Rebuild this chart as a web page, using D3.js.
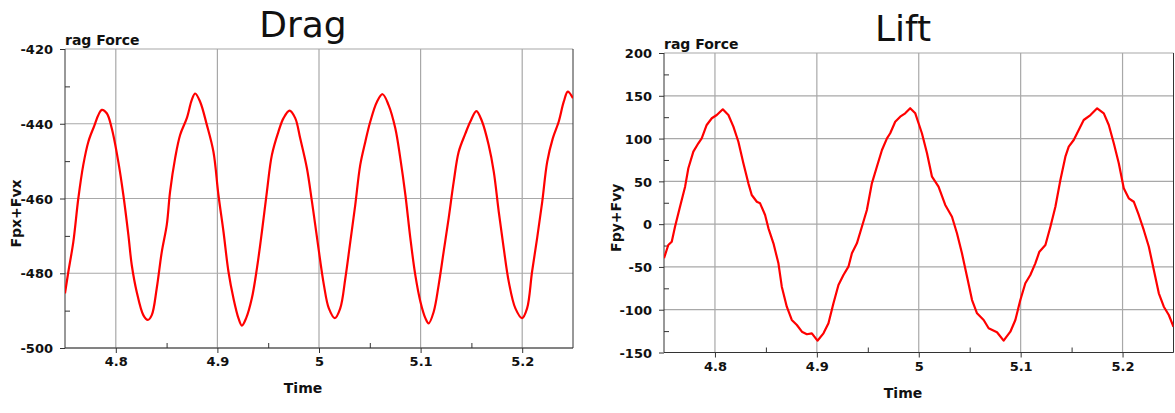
<!DOCTYPE html>
<html>
<head>
<meta charset="utf-8">
<script src="https://cdn.jsdelivr.net/npm/d3@7"></script>
<style>
  body { margin: 0; background: #fff; }
  svg text { font-family: "DejaVu Sans", sans-serif; fill: #111; }
</style>
</head>
<body>
<svg width="1175" height="413"></svg>
<script>
// values
const timeTicks = [4.8, 4.9, 5, 5.1, 5.2];
const timeMinor = [4.85, 4.95, 5.05, 5.15];

const dragTicks = [-500, -480, -460, -440, -420];
const dragMinor = [-490, -470, -450, -430];
const liftTicks = [-150, -100, -50, 0, 50, 100, 150, 200];
const liftMinor = [-125, -75, -25, 25, 75, 125, 175];

const dragTime = [4.750, 4.7533, 4.7582, 4.7631, 4.7680, 4.7730, 4.7779, 4.7862, 4.7911, 4.7960,
  4.8025, 4.8074, 4.8124, 4.8157, 4.8206, 4.8271, 4.8315, 4.8354, 4.8403, 4.8453,
  4.8502, 4.8534, 4.8584, 4.8633, 4.8699, 4.8748, 4.8781, 4.8830, 4.8896, 4.8961,
  4.9010, 4.9060, 4.9109, 4.9158, 4.9207, 4.9241, 4.9283, 4.9339, 4.9389, 4.9438,
  4.9487, 4.9536, 4.9601, 4.9651, 4.9710, 4.9766, 4.9815, 4.9881, 4.9931, 4.9980,
  5.0048, 5.0097, 5.0156, 5.0209, 5.0259, 5.0308, 5.0357, 5.0406, 5.0456, 5.0505,
  5.0571, 5.0626, 5.0685, 5.0751, 5.0800, 5.0850, 5.0899, 5.0948, 5.0998, 5.1047,
  5.1079, 5.1129, 5.1178, 5.1227, 5.1276, 5.1326, 5.1375, 5.1441, 5.1490, 5.1549,
  5.1605, 5.1670, 5.1720, 5.1769, 5.1818, 5.1868, 5.1933, 5.1999, 5.2048, 5.2097,
  5.2147, 5.2197, 5.2246, 5.2301, 5.2360, 5.2409, 5.2449, 5.2500];
const dragForce = [-485.4, -479.6, -471.6, -460.0, -451.0, -444.8, -441.2, -436.3, -437.2, -441.2,
  -450.2, -459.0, -469.8, -477.8, -485.0, -491.2, -492.5, -491.2, -484.0, -474.2,
  -467.0, -458.2, -449.2, -443.0, -438.5, -433.6, -431.9, -434.1, -440.3, -447.5,
  -459.0, -468.9, -479.6, -486.7, -492.0, -494.0, -492.0, -486.7, -478.7, -468.9,
  -458.2, -448.4, -442.1, -438.5, -436.5, -438.5, -443.9, -451.9, -460.9, -470.4,
  -483.1, -489.4, -492.0, -489.4, -481.4, -471.6, -461.7, -451.0, -444.8, -439.4,
  -434.1, -432.1, -435.0, -441.2, -449.2, -459.0, -470.6, -480.5, -487.6, -492.0,
  -493.4, -490.3, -483.1, -474.2, -465.3, -455.5, -447.5, -442.6, -439.4, -436.6,
  -439.4, -445.7, -452.8, -463.5, -473.3, -482.3, -489.4, -492.0, -489.4, -479.6,
  -470.6, -460.9, -450.2, -443.9, -439.4, -434.1, -431.4, -433.2];

const liftTime = [4.750, 4.7542, 4.7576, 4.7608, 4.7657, 4.7707, 4.7739, 4.7788, 4.7837, 4.7870,
  4.7919, 4.7969, 4.8018, 4.8077, 4.8132, 4.8181, 4.8230, 4.8279, 4.8328, 4.8361,
  4.8411, 4.8443, 4.8492, 4.8525, 4.8574, 4.8623, 4.8656, 4.8705, 4.8754, 4.8804,
  4.8853, 4.8902, 4.8951, 4.9006, 4.9065, 4.9114, 4.9163, 4.9212, 4.9261, 4.9310,
  4.9344, 4.9393, 4.9442, 4.9491, 4.9540, 4.9589, 4.9639, 4.9688, 4.9720, 4.9769,
  4.9818, 4.9867, 4.9916, 4.9966, 5.0031, 5.0081, 5.0130, 5.0194, 5.0260, 5.0326,
  5.0375, 5.0424, 5.0474, 5.0523, 5.0572, 5.0637, 5.0686, 5.0768, 5.0833, 5.0899,
  5.0948, 5.0997, 5.1046, 5.1095, 5.1144, 5.1184, 5.1243, 5.1292, 5.1341, 5.1390,
  5.1439, 5.1472, 5.1521, 5.1570, 5.1619, 5.1685, 5.1751, 5.1816, 5.1865, 5.1914,
  5.1963, 5.2012, 5.2061, 5.2110, 5.2159, 5.2208, 5.2258, 5.2307, 5.2356, 5.2405,
  5.2454, 5.2500];
const liftForce = [-39.9, -24.4, -20.5, -3.0, 20.4, 43.8, 65.3, 84.7, 94.5, 100.3,
  115.9, 123.7, 127.5, 134.2, 127.5, 113.9, 96.3, 71.1, 47.7, 34.1,
  26.2, 24.3, 10.7, -4.9, -22.4, -45.8, -73.1, -96.5, -112.0, -117.9,
  -125.7, -128.7, -127.6, -136.2, -127.6, -115.9, -92.5, -71.1, -59.4, -49.7,
  -34.1, -22.4, -3.0, 16.5, 47.7, 67.1, 86.6, 100.3, 106.2, 119.7,
  125.6, 129.5, 135.4, 129.5, 106.2, 82.8, 55.5, 43.8, 22.4, 8.7,
  -10.7, -34.1, -61.4, -88.7, -104.2, -112.0, -121.7, -126.4, -136.2, -125.7,
  -112.0, -88.7, -69.1, -59.4, -45.8, -32.2, -24.4, -3.0, 20.4, 51.6,
  78.8, 90.5, 98.3, 110.0, 121.7, 127.5, 135.4, 129.5, 115.9, 94.5,
  71.1, 41.9, 30.2, 26.2, 10.7, -6.8, -26.4, -53.6, -80.8, -96.5,
  -106.2, -119.9];

const svg = d3.select("svg");
const plain = d => String(d);   // keep ascii hyphen for negatives

function panel(p) {
    const x = d3.scaleLinear().domain([4.75, 5.25]).range([p.left, p.right]);
    const y = d3.scaleLinear().domain(p.yDomain).range([p.bottom, p.top]);
    const g = svg.append("g");

    // grid
    g.append("g").selectAll("line").data(timeTicks).join("line")
        .attr("x1", d => x(d)).attr("x2", d => x(d))
        .attr("y1", p.top).attr("y2", p.bottom)
        .attr("stroke", "#a8a8a8").attr("stroke-width", 1.2);
    g.append("g").selectAll("line").data(p.ticks).join("line")
        .attr("x1", p.left).attr("x2", p.right)
        .attr("y1", d => y(d)).attr("y2", d => y(d))
        .attr("stroke", "#a8a8a8").attr("stroke-width", 1.2);

    // axes
    g.append("g").attr("transform", `translate(0,${p.bottom})`)
        .call(d3.axisBottom(x).tickValues(timeTicks).tickFormat(plain).tickSize(5).tickPadding(4));
    g.append("g").attr("transform", `translate(0,${p.bottom})`)
        .call(d3.axisBottom(x).tickValues(timeMinor).tickFormat("").tickSize(-5));
    const yAxis = g.append("g").attr("transform", `translate(${p.left},0)`)
        .call(d3.axisLeft(y).tickValues(p.ticks).tickFormat(plain).tickSize(5).tickPadding(7));
    g.append("g").attr("transform", `translate(${p.left},0)`)
        .call(d3.axisLeft(y).tickValues(p.minor).tickFormat("").tickSize(-5));
    g.selectAll(".domain").remove();
    g.selectAll(".tick line").attr("stroke", "#333");
    g.selectAll(".tick text").style("font-size", "13px").style("font-weight", "bold")
        .style("font-family", "'DejaVu Sans', sans-serif").attr("fill", "#111");
    yAxis.selectAll(".tick text").attr("dy", "0.36em");

    // frame: left, bottom, right
    g.append("path")
        .attr("d", `M${p.left},${p.top}V${p.bottom}H${p.right}V${p.top}`)
        .attr("fill", "none").attr("stroke", "#333").attr("stroke-width", 1);

    // clipped series
    const clipId = "clip-" + p.name;
    svg.append("clipPath").attr("id", clipId).append("rect")
        .attr("x", p.left).attr("y", p.top)
        .attr("width", p.right - p.left).attr("height", p.bottom - p.top);
    const pts = p.t.map((t, i) => [t, p.v[i]]);
    g.append("path").datum(pts)
        .attr("clip-path", `url(#${clipId})`)
        .attr("fill", "none").attr("stroke", "#ff0000").attr("stroke-width", 2.2)
        .attr("stroke-linejoin", "round")
        .attr("d", d3.line().curve(p.curve).x(d => x(d[0])).y(d => y(d[1])));

    // texts, centred on the whole panel rather than the plot box
    g.append("text").attr("x", p.cx).attr("y", p.titleY)
        .attr("text-anchor", "middle").style("font-size", "36px").text(p.title);
    g.append("text").attr("x", p.left).attr("y", p.top - 4)
        .style("font-size", "14px").style("font-weight", "bold").text("rag Force");
    g.append("text").attr("x", p.cx).attr("y", p.bottom + 45)
        .attr("text-anchor", "middle").style("font-size", "14px").style("font-weight", "bold").text("Time");
    g.append("text")
        .attr("transform", `translate(${p.ylabX},${(p.top + p.bottom) / 2 + 15}) rotate(-90)`)
        .attr("text-anchor", "middle").style("font-size", "14px").style("font-weight", "bold")
        .text(p.ylabel);
}

panel({
    name: "drag", left: 65, right: 573, top: 49, bottom: 348, cx: 303,
    yDomain: [-500, -420], ticks: dragTicks, minor: dragMinor,
    t: dragTime, v: dragForce, curve: d3.curveCatmullRom,
    title: "Drag", titleY: 37, ylabel: "Fpx+Fvx", ylabX: 21
});

panel({
    name: "lift", left: 664, right: 1173.5, top: 53, bottom: 352.5, cx: 903,
    yDomain: [-150, 200], ticks: liftTicks, minor: liftMinor,
    t: liftTime, v: liftForce, curve: d3.curveLinear,
    title: "Lift", titleY: 41, ylabel: "Fpy+Fvy", ylabX: 621
});
</script>
</body>
</html>
